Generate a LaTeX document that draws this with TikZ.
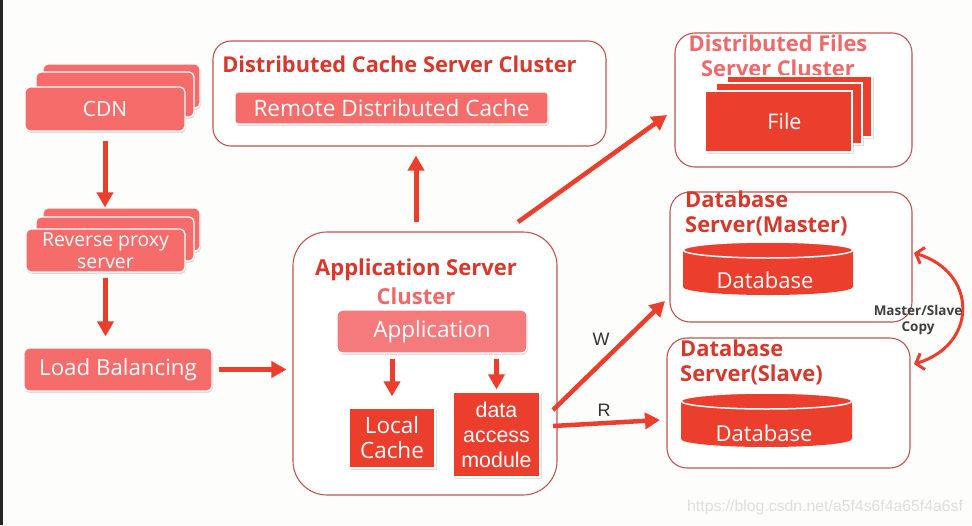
\documentclass[tikz,border=0pt]{standalone}
\usepackage{fontspec}
\setmainfont{Open Sans}
\newfontfamily\arialf{Liberation Sans}
\usetikzlibrary{arrows.meta,shadows}
\definecolor{salm}{RGB}{246,108,106}
\definecolor{appc}{RGB}{244,122,124}
\definecolor{strong}{RGB}{235,62,45}
\definecolor{frame}{RGB}{190,85,80}
\definecolor{ttl}{RGB}{214,56,44}
\definecolor{ttltwo}{RGB}{238,105,105}
\definecolor{bg}{RGB}{253,253,251}
\definecolor{wm}{RGB}{222,222,222}
\tikzset{
  frm/.style={draw=frame, line width=1.1pt, fill=white, inner sep=0pt},
  salbox/.style={fill=salm, draw=white, line width=1.2pt, rounded corners=5pt, inner sep=0pt,
     text=white, drop shadow={shadow xshift=1pt, shadow yshift=-2pt, opacity=0.25}},
  strbox/.style={fill=strong, draw=white, line width=1.2pt, inner sep=0pt, text=white,
     drop shadow={shadow xshift=1.5pt, shadow yshift=-1.5pt, opacity=0.25}},
  ttlbold/.style={text=ttl, font=\bfseries\fontsize{#1}{25}\selectfont, inner sep=0pt},
  redar/.style={draw=strong, line width=5pt, -{Triangle[length=15pt,width=16pt]}},
  lbl/.style={text=black!80, inner sep=0pt},
}
\begin{document}
\begin{tikzpicture}[x=1pt,y=-1pt]
\fill[bg] (0,0) rectangle (972,525);
\useasboundingbox (0,0) rectangle (972,525);
\fill[black!85] (0,0) rectangle (3,525);

% ---------- left column ----------
\node[salbox, minimum width=157pt, minimum height=44pt] (cdnc) at (121.5,86) {};
\node[salbox, minimum width=158pt, minimum height=45pt] (cdnb) at (115,94.5) {};
\node[salbox, minimum width=160pt, minimum height=44pt, font=\fontsize{21}{24}\selectfont] (cdn) at (105,109) {CDN};

\node[salbox, minimum width=157pt, minimum height=43pt] (rpc) at (121.5,229.5) {};
\node[salbox, minimum width=158pt, minimum height=44pt] (rpb) at (115,239) {};
\node[salbox, minimum width=159pt, minimum height=43pt, align=center, font=\fontsize{19.4}{22}\selectfont] (rp) at (105.5,250.5) {Reverse proxy\\server};

\node[salbox, minimum width=188pt, minimum height=43pt, font=\fontsize{22.3}{25}\selectfont] (lb) at (118,369.5) {Load Balancing};

\draw[redar, shorten <=9pt] (cdn.south) -- (cdn.south |- rpc.north);
\draw[redar, shorten <=5pt, shorten >=11pt] (rp.south) -- (rp.south |- lb.north);

% ---------- distributed cache ----------
\node[frm, minimum width=393pt, minimum height=105pt, rounded corners=18pt] (cachecl) at (409.5,93.5) {};
\node[ttlbold=21.8] (cachettl) at (399.5,64) {Distributed Cache Server Cluster};
\node[salbox, rounded corners=3pt, minimum width=313pt, minimum height=32pt, font=\fontsize{22.6}{25}\selectfont] (remote) at (391.5,108) {Remote Distributed Cache};

% ---------- application server ----------
\node[frm, minimum width=264pt, minimum height=263pt, rounded corners=34pt] (appcl) at (425,363.5) {};
\node[ttlbold=22] (appttl) at (416,270) {Application Server};
\node[text=ttltwo, font=\bfseries\fontsize{22}{25}\selectfont, inner sep=0pt] (appttl2) at (416,296) {Cluster};
\node[salbox, fill=appc, rounded corners=6pt, minimum width=190pt, minimum height=43pt, font=\fontsize{22.5}{25}\selectfont] (appl) at (432,331.5) {Application};
\node[strbox, minimum width=86pt, minimum height=60pt, align=center, font=\fontsize{22.5}{25}\selectfont] (lcache) at (392,438) {Local\\Cache};
\node[strbox, minimum width=87pt, minimum height=85pt, align=center, font=\arialf\fontsize{21.4}{25}\selectfont] (dam) at (496.5,434.5) {data\\access\\module};

\draw[redar, shorten <=5pt, shorten >=11pt] (lcache.north |- appl.south) -- (lcache.north);
\draw[redar, shorten <=5pt, shorten >=2pt] (dam.north |- appl.south) -- (dam.north);

\draw[redar, shorten <=6pt, shorten >=6pt] (lb.east) -- (lb.east -| appcl.west);
\draw[redar, shorten <=9pt, shorten >=9pt] (appcl.north -| 416,0) -- (cachecl.south -| 416,0);

% ---------- files ----------
\node[frm, minimum width=237pt, minimum height=134pt, rounded corners=20pt] (files) at (793.5,100) {};
\node[text=ttltwo, font=\bfseries\fontsize{21.8}{25}\selectfont, align=center, inner sep=0pt] (filettl) at (778,55.5) {Distributed Files\\Server Cluster};
\node[strbox, minimum width=145pt, minimum height=61pt] (filec) at (799.5,106.5) {};
\node[strbox, minimum width=146pt, minimum height=61pt] (fileb) at (789,113.5) {};
\node[strbox, minimum width=147pt, minimum height=61pt, font=\fontsize{21.5}{24}\selectfont] (file) at (778.5,121.5) {\hspace*{12pt}File};

% ---------- databases ----------
\node[frm, minimum width=242pt, minimum height=130pt, rounded corners=20pt] (master) at (791,257) {};
\node[ttlbold=21.9, align=left, anchor=north west] (masterttl) at (685,191) {Database\\Server(Master)};
\fill[strong] (683,250) -- (683,287) arc[start angle=180, end angle=0, x radius=85, y radius=8]
   -- (853,250) arc[start angle=0, end angle=-180, x radius=85, y radius=8] -- cycle;
\draw[white, line width=1.5pt] (768,250) ellipse[x radius=85, y radius=8];
\node[text=white, font=\fontsize{22}{24}\selectfont, inner sep=0pt] (mdb) at (765,280) {Database};

\node[frm, minimum width=243pt, minimum height=130pt, rounded corners=20pt] (slave) at (788.5,403) {};
\node[ttlbold=21.9, align=left, anchor=north west] (slavettl) at (680,340) {Database\\Server(Slave)};
\fill[strong] (681,401) -- (681,439) arc[start angle=180, end angle=0, x radius=85.5, y radius=8]
   -- (852,401) arc[start angle=0, end angle=-180, x radius=85.5, y radius=8] -- cycle;
\draw[white, line width=1.5pt] (766.5,401) ellipse[x radius=85.5, y radius=8];
\node[text=white, font=\fontsize{22}{24}\selectfont, inner sep=0pt] (sdb) at (764,433) {Database};

% ---------- connectors to the right ----------
\coordinate (filesfrom) at (518,222);
\coordinate (filesto) at (667,115);
\draw[redar, line width=4.5pt] (filesfrom) -- (filesto);

\coordinate (wfrom) at (553,410);
\coordinate (wto) at (665,301);
\draw[redar, line width=4.5pt] (wfrom) -- (wto);
\node[lbl, font=\arialf\fontsize{18}{20}\selectfont] (wl) at (601,339) {W};

\coordinate (rfrom) at (553,426);
\coordinate (rto) at (660,420);
\draw[redar, line width=4.5pt] (rfrom) -- (rto);
\node[lbl, font=\arialf\fontsize{18}{20}\selectfont] (rl) at (604,410) {R};

\coordinate (mcopy) at (914,253);
\coordinate (scopy) at (914,364);
\draw[draw=strong, line width=3pt, {Straight Barb[length=7pt,width=17pt]}-{Straight Barb[length=7pt,width=17pt]}]
  (mcopy) .. controls (978,272) and (978,345) .. (scopy);
\node[lbl, text=black!75, align=center, font=\bfseries\fontsize{13.5}{16}\selectfont] (copyl) at (918,320) {Master/Slave\\Copy};

\node[text=wm, anchor=west, inner sep=0pt, font=\arialf\fontsize{15.8}{17}\selectfont] (wmk) at (687,507) {https://blog.csdn.net/a5f4s6f4a65f4a6sf};
\end{tikzpicture}
\end{document}
